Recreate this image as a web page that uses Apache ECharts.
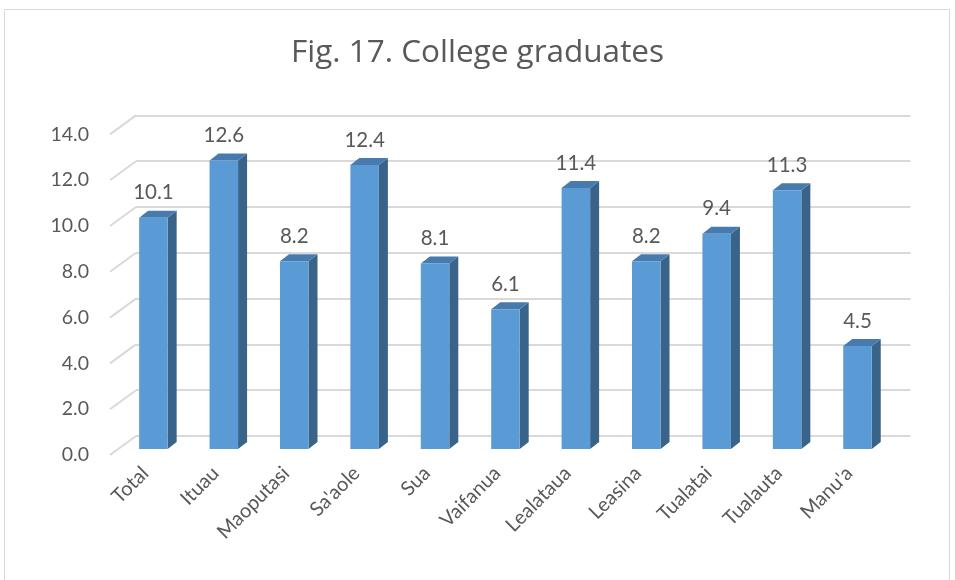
<!DOCTYPE html>
<html>
<head>
<meta charset="utf-8">
<script src="https://cdn.jsdelivr.net/npm/echarts@6/dist/echarts.min.js"></script>
<style>html,body{margin:0;padding:0;background:#fff}#c{width:955px;height:580px}</style>
</head>
<body>
<div id="c"></div>
<script>
const categories = ["Total","Ituau","Maoputasi","Sa'aole","Sua","Vaifanua","Lealataua","Leasina","Tualatai","Tualauta","Manu'a"];
const values = [10.1, 12.6, 8.2, 12.4, 8.1, 6.1, 11.4, 8.2, 9.4, 11.3, 4.5];
const yTicks = [0, 2, 4, 6, 8, 10, 12, 14];
const titleText = "Fig. 17. College graduates";

const FONT = "Lato";
const TXT = "#595959";
const GRIDC = "#D9D9D9";

const chart = echarts.init(document.getElementById('c'));
// planes: front (labels), bar plane, back wall
const front = {left: 110, right: 884.5, y0: 455, y14: 134.4};
const barP = {dx: 8.2, dy: -6};
const back = {dx: 26, dy: -19};

function gridOf(p, ox, oy) {
  return {
    left: p.left + ox,
    width: p.right - p.left,
    top: p.y14 + oy,
    height: p.y0 - p.y14,
    containLabel: false
  };
}

chart.setOption({
  animation: false,
  title: {
    text: titleText,
    left: 'center',
    top: 32,
    textStyle: {fontFamily: "Open Sans", fontSize: 31.5, fontWeight: 'normal', color: TXT}
  },
  graphic: [{
    type: 'rect', shape: {x: 4.5, y: 9.5, width: 945, height: 620},
    style: {fill: 'none', stroke: GRIDC, lineWidth: 1}, silent: true, z: -10
  }],
  grid: [
    gridOf(front, 0, 0),
    gridOf(front, barP.dx, barP.dy),
    gridOf(front, back.dx, back.dy)
  ],
  xAxis: [
    {gridIndex: 0, type: 'category', data: categories,
     axisLine: {show: false}, axisTick: {show: false},
     axisLabel: {rotate: 45, margin: 15, interval: 0, fontFamily: FONT, fontSize: 20, color: TXT}},
    {gridIndex: 1, type: 'category', data: categories, show: false},
    {gridIndex: 2, type: 'category', data: categories, show: false}
  ],
  yAxis: [
    {gridIndex: 0, type: 'value', min: 0, max: 14, interval: 2,
     axisLine: {show: false}, axisTick: {show: false}, splitLine: {show: false},
     axisLabel: {margin: 21, fontFamily: FONT, fontSize: 19.5, color: TXT, formatter: v => v.toFixed(1)}},
    {gridIndex: 1, type: 'value', min: 0, max: 14, interval: 2, show: false, splitLine: {show: false}},
    {gridIndex: 2, type: 'value', min: 0, max: 14, interval: 2,
     axisLine: {show: false}, axisTick: {show: false}, axisLabel: {show: false},
     splitLine: {show: true, lineStyle: {color: GRIDC, width: 2}}}
  ],
  series: [
    {
      type: 'custom', xAxisIndex: 0, yAxisIndex: 0, silent: true, z: 1,
      data: yTicks.map(v => [0, v]),
      renderItem: function (params, api) {
        const y = api.coord([0, api.value(1)])[1];
        const x = params.coordSys.x;
        return {type: 'line', shape: {x1: x, y1: y, x2: x + back.dx, y2: y + back.dy},
                style: {stroke: GRIDC, lineWidth: 2}};
      }
    },
    {
      type: 'custom', xAxisIndex: 1, yAxisIndex: 1, silent: true, z: 5,
      data: values.map((v, i) => [i, v]),
      renderItem: function (params, api) {
        const i = api.value(0), v = api.value(1);
        const top = api.coord([i, v]);
        const base = api.coord([i, 0]);
        const bw = api.size([1, 0])[0] * 0.405;
        const x0 = top[0] - bw / 2, x1 = top[0] + bw / 2;
        const yt = top[1], yb = base[1];
        const dx = 9, dy = -7;
        return {
          type: 'group',
          children: [
            {type: 'polygon', shape: {points: [[x1, yb], [x1, yt], [x1 + dx, yt + dy], [x1 + dx, yb + dy]]},
             style: {fill: '#3A6389'}},
            {type: 'polygon', shape: {points: [[x0, yt], [x1, yt], [x1 + dx, yt + dy], [x0 + dx, yt + dy]]},
             style: {fill: '#477BAE'}},
            {type: 'rect', shape: {x: x0, y: yt, width: bw, height: yb - yt},
             style: {fill: '#5B9BD5'}},
            {type: 'text', x: top[0], y: yt - 25,
             style: {text: v.toFixed(1), fill: TXT, font: '20.5px ' + FONT, align: 'center', verticalAlign: 'middle'}}
          ]
        };
      }
    }
  ]
});
</script>
</body>
</html>
